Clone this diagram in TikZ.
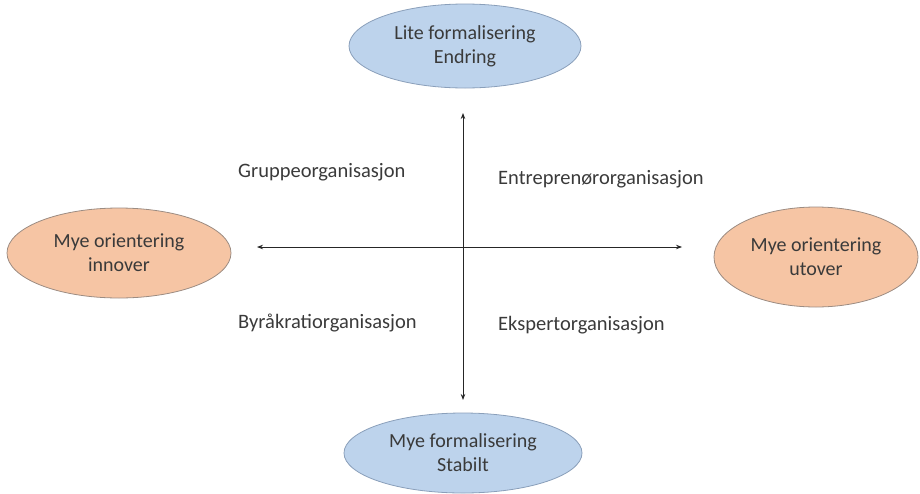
\documentclass[tikz,border=0pt]{standalone}
\usepackage{fontspec}
\setmainfont{Carlito}
\usetikzlibrary{shapes.geometric,arrows.meta}
\definecolor{bluefill}{HTML}{BDD3EC}
\definecolor{blueline}{HTML}{8A9FBA}
\definecolor{orangefill}{HTML}{F6C5A4}
\definecolor{orangeline}{HTML}{9C8C82}
\definecolor{txt}{HTML}{3A3A3A}
\tikzset{
  oval/.style={ellipse, inner sep=0pt, align=center, text=txt,
    font=\fontsize{20}{24}\selectfont, line width=0.8pt},
  blueoval/.style={oval, fill=bluefill, draw=blueline},
  orangeoval/.style={oval, fill=orangefill, draw=orangeline},
  quadlabel/.style={anchor=west, text=txt, inner sep=0pt,
    font=\fontsize{20.5}{24}\selectfont},
  axis/.style={line width=0.8pt, draw=black!85,
    {Stealth[length=6pt,width=4.5pt]}-{Stealth[length=6pt,width=4.5pt]}}
}
\begin{document}
\begin{tikzpicture}[x=1pt,y=-1pt]
\useasboundingbox (0,0) rectangle (920,493);
\node[blueoval, minimum width=232pt, minimum height=84pt] (top) at (465,46) {Lite formalisering\\Endring};
\node[orangeoval, minimum width=224pt, minimum height=90pt] (left) at (119,253) {Mye orientering\\innover};
\node[orangeoval, minimum width=204pt, minimum height=100pt] (right) at (816,257) {Mye orientering\\utover};
\node[blueoval, minimum width=238pt, minimum height=80pt] (bottom) at (463,453) {Mye formalisering\\Stabilt};
\coordinate (vtop) at (463,113);
\coordinate (vbot) at (463,400);
\coordinate (hleft) at (257,247);
\coordinate (hright) at (682,247);
\draw[axis] (vtop) -- (vbot);
\draw[axis] (hleft) -- (hright);
\node[quadlabel] (grp) at (238,172) {Gruppeorganisasjon};
\node[quadlabel] (ent) at (498,179) {Entreprenørorganisasjon};
\node[quadlabel] (byr) at (238,323) {Byråkratiorganisasjon};
\node[quadlabel] (eks) at (498,325) {Ekspertorganisasjon};
\end{tikzpicture}
\end{document}
